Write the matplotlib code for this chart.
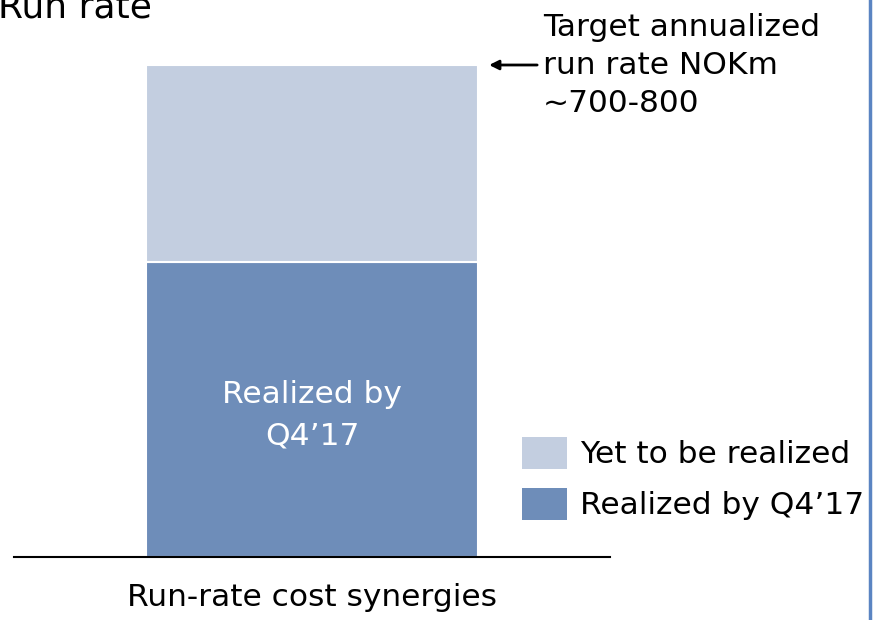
import matplotlib
matplotlib.use("Agg")
import matplotlib.pyplot as plt
from matplotlib.lines import Line2D
from matplotlib.patches import Patch

# Daten
category = ["Run-rate cost synergies"]
realized = [60]
yet_to_realize = [40]
series_labels = ["Realized by Q4\u201917", "Yet to be realized"]
colors = ["#6e8db9", "#c3cee0"]

plt.rcParams["font.family"] = ["DejaVu Sans"]
fs = 22.5

W, H = 875, 620
fig = plt.figure(figsize=(W / 100, H / 100), dpi=100)

# Achse: Grundlinie von x=14 bis 610 px, Balken unten bei y=557, oben bei y=65
ax = fig.add_axes([14 / W, (H - 557) / H, 596 / W, 492 / H])
x = [0]
ax.bar(x, realized, width=1.0, color=colors[0], edgecolor="white", linewidth=1.5)
ax.bar(x, yet_to_realize, width=1.0, bottom=realized, color=colors[1],
       edgecolor="white", linewidth=1.5)
ax.set_xlim(-0.9, 0.9)
ax.set_ylim(0, 100)
for s in ["top", "right", "left"]:
    ax.spines[s].set_visible(False)
ax.spines["bottom"].set_linewidth(1.5)
ax.set_xticks([])
ax.set_yticks([])

# Text im Balken (etwas unter der Mitte)
ax.text(0, realized[0] * 0.48, "Realized by\nQ4\u201917", color="white", ha="center",
        va="center", fontsize=fs, linespacing=1.55)

# Pfeil + Zielwert
total = realized[0] + yet_to_realize[0]
ax.annotate("", xy=(0.535, total), xytext=(0.68, total),
            arrowprops=dict(arrowstyle="-|>", color="black", lw=2,
                            mutation_scale=14, shrinkA=0, shrinkB=0),
            annotation_clip=False)
fig.text(543 / W, (H - 13) / H, "Target annualized\nrun rate NOKm\n~700-800",
         ha="left", va="top", fontsize=fs, linespacing=1.4)

# Titel (oben abgeschnitten)
fig.text(-2 / W, (H - 18) / H, "Run rate", ha="left", va="baseline", fontsize=26)

# Kategorie unten
fig.text(312 / W, (H - 598) / H, category[0], ha="center", va="center", fontsize=fs)

# Legende
handles = [Patch(facecolor=colors[1]), Patch(facecolor=colors[0])]
fig.legend(handles, [series_labels[1], series_labels[0]], loc="upper left",
           bbox_to_anchor=(509 / W, (H - 424) / H), frameon=False, fontsize=fs,
           handlelength=1.45, handleheight=1.2, handletextpad=0.42,
           labelspacing=0.6, borderaxespad=0)

# Blaue Linie rechts
fig.add_artist(Line2D([870 / W, 870 / W], [0, 1], color="#5a84c2", lw=2.5,
                      transform=fig.transFigure))

fig.savefig("out.png", dpi=100)
